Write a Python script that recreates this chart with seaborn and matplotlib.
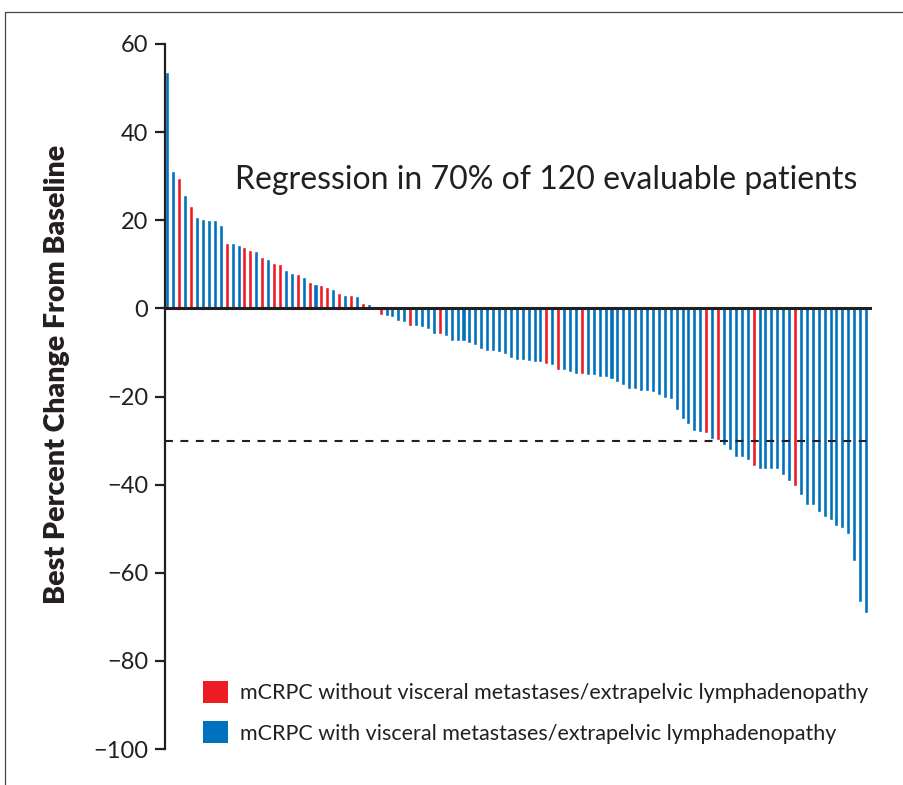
import matplotlib
matplotlib.use("Agg")
import matplotlib.pyplot as plt
from matplotlib.patches import Patch
from matplotlib.lines import Line2D
import seaborn as sns
import pandas as pd

# Best percent change from baseline, one value per evaluable patient (sorted)
change = [
    53.7, 31.2, 29.5, 25.8, 23.3, 20.8, 20.3, 20.1, 20.1, 19.0,
    14.8, 14.8, 14.4, 13.9, 13.3, 13.0, 11.7, 11.2, 10.4, 10.1,
    8.7, 8.0, 7.8, 7.1, 6.0, 5.5, 5.3, 4.8, 4.4, 3.5,
    3.0, 3.0, 2.8, 1.2, 1.0, 0.0, -1.5, -1.7, -2.0, -2.9,
    -3.1, -4.1, -4.1, -4.3, -4.6, -5.9, -5.9, -6.2, -7.3, -7.3,
    -7.5, -7.8, -8.2, -9.3, -9.6, -9.6, -9.8, -10.3, -11.2, -11.8,
    -11.8, -12.0, -12.2, -12.2, -12.7, -12.9, -14.0, -14.0, -14.5, -14.9,
    -14.9, -15.2, -15.2, -15.6, -15.6, -16.1, -16.7, -17.4, -18.3, -18.3,
    -18.8, -18.8, -19.0, -19.7, -20.4, -20.6, -23.1, -25.2, -26.3, -27.9,
    -28.1, -28.3, -29.7, -29.9, -31.1, -32.2, -33.8, -33.8, -34.5, -35.8,
    -36.5, -36.5, -36.5, -36.5, -37.9, -39.2, -40.2, -42.4, -44.7, -44.7,
    -46.1, -47.4, -48.1, -49.5, -49.9, -51.3, -57.4, -66.7, -69.2,
]

# 'R' = without visceral metastases/extrapelvic lymphadenopathy, 'B' = with
group_code = (
    "BBRBRBBBBB"
    "RBBRRBRBRR"
    "BBRBRBRRBR"
    "BRBRBBRBBB"
    "BRBBBBRBBB"
    "BBBBBBBBBB"
    "BBBBRBRBBB"
    "RBBBBBBBBB"
    "BBBBBBBBBB"
    "BRBRBBBBBR"
    "BBBBBBRBBB"
    "BBBBBBBBB"
)

label_without = "mCRPC without visceral metastases/extrapelvic lymphadenopathy"
label_with = "mCRPC with visceral metastases/extrapelvic lymphadenopathy"
headline = "Regression in 70% of 120 evaluable patients"
y_ticks = [60, 40, 20, 0, -20, -40, -60, -80, -100]
threshold = -30

RED = "#ED1C24"
BLUE = "#0071BC"
INK = "#231F20"

df = pd.DataFrame({
    "patient": [str(i + 1) for i in range(len(change))],
    "change": change,
    "group": [label_without if c == "R" else label_with for c in group_code],
})

sns.set_theme(style="white")
plt.rcParams["font.family"] = ["Lato", "DejaVu Sans"]
plt.rcParams["axes.unicode_minus"] = True

W, H = 904, 785
fig = plt.figure(figsize=(W / 100, H / 100), dpi=100)
ax = fig.add_axes([165 / W, 1 - 749 / H, 707 / W, (749 - 44) / H])

sns.barplot(
    data=df, x="patient", y="change", hue="group",
    order=df["patient"], hue_order=[label_without, label_with],
    palette={label_without: RED, label_with: BLUE},
    dodge=False, width=0.68, saturation=1, legend=False, ax=ax,
)

ax.set_xlim(-0.42, len(change) - 1 + 1.0)
ax.set_ylim(-100, 60)

# zero reference line and response threshold
ax.axhline(0, color=INK, lw=2.2, zorder=5)
ax.axhline(threshold, color=INK, lw=1.5, dashes=(3.8, 3.6), zorder=5)

for s in ["top", "right", "bottom"]:
    ax.spines[s].set_visible(False)
ax.spines["left"].set_color(INK)
ax.spines["left"].set_linewidth(1.6)
ax.spines["left"].set_bounds(-100, 60)

ax.set_xticks([])
ax.set_xlabel("")
ax.set_yticks(y_ticks)
ax.set_yticklabels([f"{t}".replace("-", "\u2212") for t in y_ticks])
ax.tick_params(axis="y", direction="out", length=7, width=1.6, color=INK,
               labelsize=17, labelcolor=INK, pad=5, left=True)

ax.set_ylabel("Best Percent Change From Baseline", fontsize=20.5,
              fontweight="heavy", color=INK)
ax.yaxis.set_label_coords(-0.134, 0.532)

ax.text(0.099, 0.807, headline, transform=ax.transAxes, ha="left",
        va="center", fontsize=23, color=INK)

handles = [Patch(facecolor=RED, edgecolor="none"),
           Patch(facecolor=BLUE, edgecolor="none")]
ax.legend(handles, [label_without, label_with], loc="upper left",
          bbox_to_anchor=(0.054, 0.097), frameon=False, fontsize=15.5,
          handlelength=1.15, handleheight=1.2, handletextpad=0.55,
          labelspacing=0.85, borderpad=0, borderaxespad=0,
          labelcolor=INK)

# thin frame along the top and left edges of the figure
fig.add_artist(Line2D([5 / W, 1.0], [1 - 12 / H, 1 - 12 / H],
                      transform=fig.transFigure, color="#444444", lw=0.9))
fig.add_artist(Line2D([5 / W, 5 / W], [0.0, 1 - 12 / H],
                      transform=fig.transFigure, color="#444444", lw=0.9))

fig.savefig("out.png", dpi=100, facecolor="white")
